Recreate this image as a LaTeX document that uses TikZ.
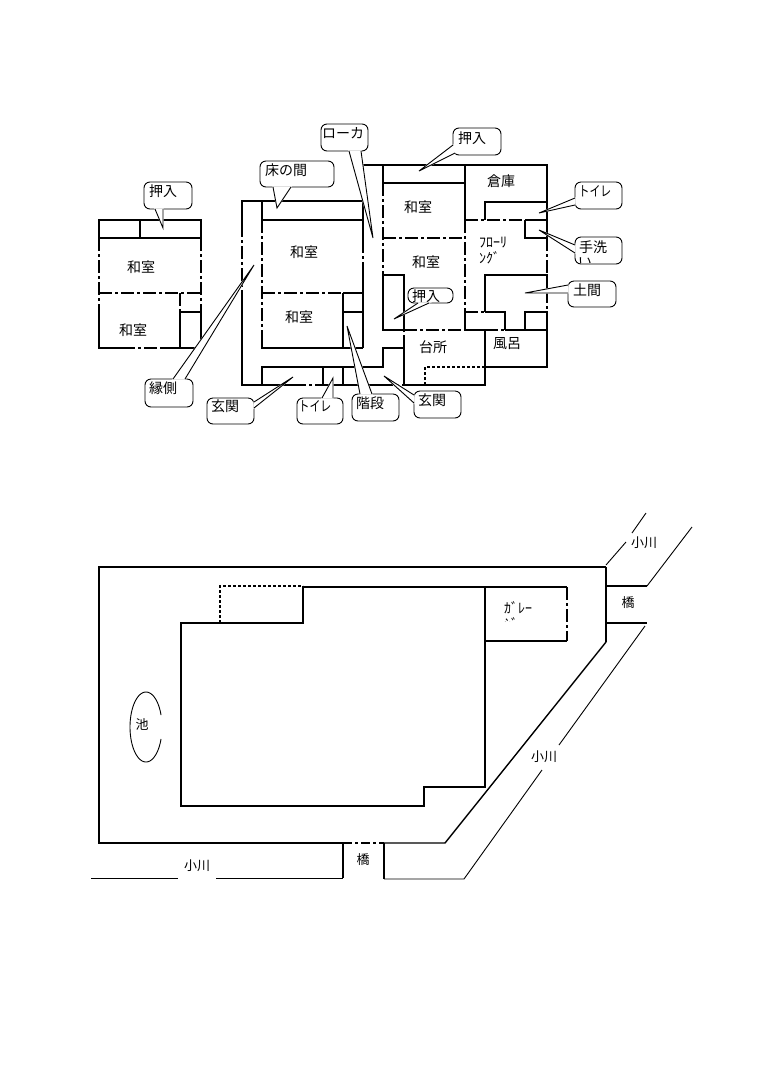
\documentclass[tikz,border=0pt]{standalone}
\usepackage{fontspec}
\usepackage{graphicx}
\setmainfont{Noto Sans CJK JP}
\tikzset{
  wall/.style={line width=2.2pt,line cap=butt,line join=miter,draw=black},
  dd/.style={wall,dash pattern=on 13pt off 3pt on 3pt off 3pt},
  fine/.style={line width=0.9pt,draw=black},
  finedash/.style={line width=1.1pt,draw=black,dash pattern=on 3pt off 2pt},
  lbl/.style={inner sep=0pt,font=\fontsize{14}{16}\selectfont},
  sitelbl/.style={inner sep=0pt,font=\fontsize{13}{15}\selectfont},
  callbox/.style={fine,fill=white,rounded corners=6pt}
}
\newcommand\callshape[7]{%
  \draw[callbox] (#1,#2) rectangle (#3,#4);
  \filldraw[white,line width=1.2pt] #6 -- #5 -- #7 -- cycle;
  \draw[fine,line join=miter] #6 -- #5 -- #7;
}
\newcommand\toire{\scalebox{0.78}[1]{トイレ}}
\begin{document}
\begin{tikzpicture}[x=1pt,y=-1pt]
\useasboundingbox (0,0) rectangle (763,1080);
\fill[white] (0,0) rectangle (763,1080);

% ---- left building
\draw[wall] (99,220) rectangle (201,238);
\draw[wall] (140,220) -- (140,238);
\draw[dd] (99,238) -- (99,307);
\draw[wall] (99,307) -- (99,348) -- (122,348);
\draw[dd] (122,348) -- (160,348);
\draw[wall] (160,348) -- (201,348) -- (201,312) -- (180,312) -- (180,348);
\draw[dd] (201,238) -- (201,312);
\draw[dd] (99,293) -- (201,293);
\draw[dd] (180,293) -- (180,312);

% ---- middle building
\draw[wall] (363,201) -- (242,201) -- (242,224);
\draw[dd] (242,224) -- (242,290);
\draw[wall] (242,290) -- (242,385) -- (293,385);
\draw[dd] (293,385) -- (320,385);
\draw[wall] (320,385) -- (380,385);
\draw[dd] (380,385) -- (404,385);
\draw[wall] (262,201) -- (262,220) -- (363,220);
\draw[dd] (262,220) -- (262,340);
\draw[wall] (262,340) -- (262,348) -- (363,348);
\draw[dd] (262,293) -- (343,293);
\draw[wall] (343,293) -- (363,293);
\draw[wall] (343,293) -- (343,348);
\draw[wall] (343,312) -- (363,312);
\draw[wall] (363,165) -- (363,240);
\draw[dd] (363,240) -- (363,272);
\draw[wall] (363,272) -- (363,348);
\draw[wall] (262,385) -- (262,367) -- (383,367) -- (383,348) -- (404,348);
\draw[wall] (323,367) -- (323,385);
\draw[wall] (343,367) -- (343,385);

% ---- right building
\draw[wall] (363,165) -- (547,165) -- (547,238);
\draw[wall] (383,165) -- (383,183) -- (465,183);
\draw[wall] (465,165) -- (465,220);
\draw[dd] (383,183) -- (383,275);
\draw[dd] (383,238) -- (465,238);
\draw[wall] (383,275) -- (404,275) -- (404,330);
\draw[wall] (383,275) -- (383,330) -- (404,330);
\draw[dd] (404,330) -- (465,330);
\draw[wall] (465,330) -- (485,330) -- (485,385) -- (404,385) -- (404,348);
\draw[dd] (404,348) -- (404,330);
\draw[finedash] (425,385) -- (425,367) -- (485,367);
\draw[wall] (485,367) -- (547,367) -- (547,330) -- (505,330);
\draw[dd] (485,330) -- (505,330);
\draw[dd] (465,220) -- (525,220);
\draw[wall] (485,220) -- (485,202) -- (547,202);
\draw[wall] (525,220) -- (547,220);
\draw[wall] (525,220) -- (525,238) -- (547,238);
\draw[dd] (465,220) -- (465,312);
\draw[wall] (465,312) -- (465,330);
\draw[dd] (465,312) -- (485,312);
\draw[wall] (485,312) -- (485,275) -- (547,275) -- (547,290);
\draw[dd] (547,238) -- (547,275);
\draw[dd] (547,290) -- (547,312);
\draw[wall] (485,312) -- (505,312) -- (505,330);
\draw[wall] (525,330) -- (525,312) -- (547,312) -- (547,330);

% ---- callouts
\callshape{144}{182}{192}{209}{(163,228)}{(155,209)}{(163,209)}
\callshape{260}{161}{334}{187}{(277,208)}{(273,187)}{(291,187)}
\callshape{321}{124}{368}{151}{(373,238)}{(349,151)}{(361,151)}
\callshape{145}{379}{193}{407}{(254,265)}{(173,379)}{(185,379)}
\callshape{207}{398}{254}{424}{(293,377)}{(254,402)}{(254,408)}
\callshape{297}{398}{343}{424}{(333,378)}{(322,398)}{(333,398)}
\callshape{352}{394}{399}{421}{(347,326)}{(360,394)}{(372,394)}
\callshape{414}{391}{461}{418}{(384,376)}{(414,395)}{(414,403)}
\callshape{453}{128}{501}{155}{(419,171)}{(453,145)}{(455,153)}
\callshape{575}{182}{622}{209}{(539,213)}{(575,198)}{(575,205)}
\callshape{575}{237}{622}{264}{(539,230)}{(575,245)}{(575,253)}
\callshape{568}{281}{616}{307}{(525,293)}{(568,285)}{(568,293)}
\callshape{408}{288}{453}{303}{(394,319)}{(418,303)}{(429,303)}

% ---- callout texts
\node[lbl] (c1) at (163,191) {押入};
\node[lbl] (c2) at (286,170) {床の間};
\node[lbl] (c3) at (343,133) {ローカ};
\node[lbl] (c4) at (163,388) {縁側};
\node[lbl] (c5) at (225,406) {玄関};
\node[lbl] (c6) at (315,406) {\toire};
\node[lbl] (c7) at (370,403) {階段};
\node[lbl] (c8) at (432,400) {玄関};
\node[lbl] (c9) at (472,138) {押入};
\node[lbl] (c10) at (595,191) {\toire};
\node[lbl] (c11) at (593,247) {手洗};
\begin{scope}
  \clip (576,238) rectangle (621,262);
  \node[lbl] (c11b) at (585,263) {い};
\end{scope}
\node[lbl] (c12) at (587,290) {土間};
\node[lbl] (c13) at (426,296) {押入};

% ---- room labels
\node[lbl] (r1) at (141,267) {和室};
\node[lbl] (r2) at (133,330) {和室};
\node[lbl] (r3) at (304,252) {和室};
\node[lbl] (r4) at (299,317) {和室};
\node[lbl] (r5) at (418,207) {和室};
\node[lbl] (r6) at (426,262) {和室};
\node[lbl] (r7) at (501,181) {倉庫};
\node[lbl,anchor=west] (r8) at (479,243) {ﾌﾛｰﾘ};
\node[lbl,anchor=west] (r9) at (479,258) {ﾝｸﾞ};
\node[lbl] (r10) at (433,347) {台所};
\node[lbl] (r11) at (507,344) {風呂};

% ---- site plan
\draw[fine,line width=1.3pt] (343,843) -- (99,843) -- (99,567) -- (606,567);
\draw[wall] (606,567) -- (606,642);
\draw[fine,line width=1.4pt] (606,642) -- (445,843) -- (384,843);
\draw[wall,dash pattern=on 9pt off 3pt on 3pt off 3pt] (343,843) -- (384,843);
\draw[wall] (343,843) -- (343,878);
\draw[wall] (384,843) -- (384,879);
\draw[fine] (91,878) -- (178,878);
\draw[fine] (216,878) -- (343,878);
\draw[fine] (384,879) -- (464,879) -- (542,770);
\draw[fine] (559,745) -- (645,626);
\draw[wall,line width=1.7pt] (606,586) -- (647,586);
\draw[wall] (606,623) -- (647,623);
\draw[fine] (647,586) -- (692,527);
\draw[fine] (606,565) -- (626,542);
\draw[fine] (632,533) -- (646,513);

% house
\draw[wall] (303,587) -- (567,587);
\draw[wall] (181,623) -- (303,623) -- (303,586);
\draw[wall] (181,622) -- (181,806) -- (424,806) -- (424,787) -- (485,787) -- (485,587);
\draw[wall] (485,641) -- (567,641);
\draw[dd] (567,587) -- (567,641);
\draw[finedash] (220,623) -- (220,586) -- (303,586);
\draw[fine] plot[domain=20:340,samples=70,smooth] ({146+16*cos(\x)},{727-35*sin(\x)});

\node[sitelbl] (p1) at (142,724) {池};
\node[sitelbl] (p2) at (628,603) {橋};
\node[sitelbl] (p3) at (363,860) {橋};
\node[sitelbl] (p4) at (644,543) {小川};
\node[sitelbl] (p5) at (544,757) {小川};
\node[sitelbl] (p6) at (197,866) {小川};
\node[lbl,anchor=west] (p7) at (504,608) {ｶﾞﾚｰ};
\begin{scope}
  \clip (500,615) rectangle (530,621);
  \node[lbl,anchor=west] (p8) at (504,624) {ｼﾞ};
\end{scope}
\end{tikzpicture}
\end{document}
